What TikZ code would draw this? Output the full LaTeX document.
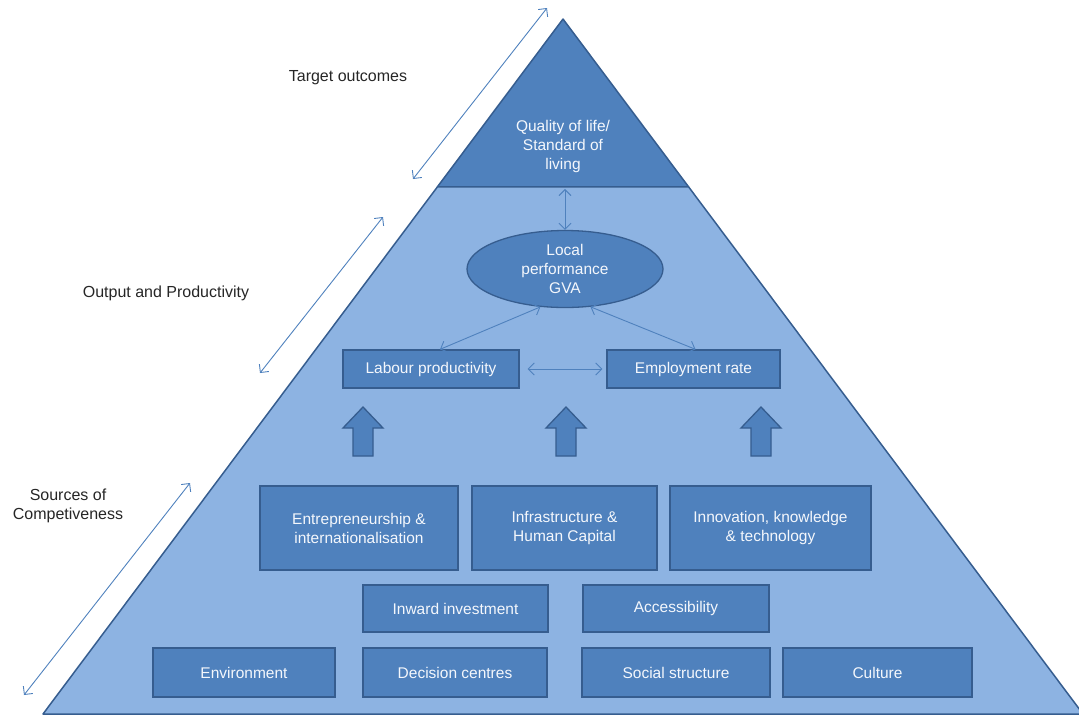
\documentclass[tikz,border=0pt]{standalone}
\usepackage{fontspec}
\setmainfont{Liberation Sans}
\usetikzlibrary{calc}
\usetikzlibrary{shapes.geometric,arrows.meta}
\definecolor{pyrlightc}{HTML}{8DB3E2}
\definecolor{pyrdarkc}{HTML}{4F81BD}
\definecolor{pyredgec}{HTML}{365D8F}
\colorlet{pyrlight}{pyrlightc}
\colorlet{pyrdark}{pyrdarkc}
\colorlet{pyredge}{pyredgec}
\colorlet{boxtext}{white!90!pyrlight}
\colorlet{labeltext}{black!85}
\tikzstyle{level} = [
    draw=pyredge,
    line width=1.5pt,
    line join=round
    ]
\tikzstyle{factor} = [
    draw=pyredge,
    fill=pyrdark,
    line width=1.3pt,
    rectangle,
    text=boxtext,
    align=center,
    inner sep=2pt,
    font=\fontsize{15.5}{19}\selectfont
    ]
\tikzstyle{sidelabel} = [
    text=labeltext,
    align=center,
    font=\fontsize{16}{19}\selectfont
    ]
\tikzstyle{link} = [
    pyrdark,
    line width=0.9pt,
    {Straight Barb[length=6pt,width=12pt]}-{Straight Barb[length=6pt,width=12pt]}
    ]
\tikzstyle{uparrow} = [
    draw=pyredge,
    fill=pyrdark,
    line width=1.3pt,
    line join=miter
    ]

\begin{document}
\begin{tikzpicture}[x=1pt,y=-1pt]
\useasboundingbox (0,0) rectangle (1079,716);

% pyramid
\coordinate (apex) at (563,19);
\coordinate (baseL) at (43,714);
\coordinate (baseR) at (1083,714);
\coordinate (bandL) at ($(apex)!0.2417!(baseL)$);
\coordinate (bandR) at ($(apex)!0.2417!(baseR)$);
\fill[pyrlight] (apex) -- (baseL) -- (baseR) -- cycle;
\draw[level, fill=pyrdark] (apex) -- (bandL) -- (bandR) -- cycle;
\draw[level] (bandL) -- (baseL) -- (baseR) -- (bandR);

% top level
\node[factor, draw=none, fill=none] (qol) at (563,146) {Quality of life/\\Standard of\\living};
\node[factor, ellipse, minimum width=196, minimum height=77, inner sep=0pt] (gva) at (565,269) {Local\\performance\\GVA};

% output level
\node[factor, minimum width=176, minimum height=38] (labour) at (431,369) {Labour productivity};
\node[factor, minimum width=173, minimum height=38] (employ) at (693.5,369) {Employment rate};

% sources of competitiveness
\node[factor, minimum width=198, minimum height=84] (entre) at (359,528) {Entrepreneurship \&\\internationalisation};
\node[factor, minimum width=185, minimum height=84] (infra) at (564.5,528) {Infrastructure \&\\Human Capital};
\node[factor, minimum width=201, minimum height=84] (innov) at (770.5,528) {Innovation, knowledge\\\& technology};
\node[factor, minimum width=185, minimum height=47] (inward) at (455.5,608.5) {Inward investment};
\node[factor, minimum width=186, minimum height=47] (access) at (676,608.5) {Accessibility};
\node[factor, minimum width=182, minimum height=49] (environ) at (244,672.5) {Environment};
\node[factor, minimum width=184, minimum height=49] (decision) at (455,672.5) {Decision centres};
\node[factor, minimum width=188, minimum height=49] (social) at (676,672.5) {Social structure};
\node[factor, minimum width=189, minimum height=49] (culture) at (877.5,672.5) {Culture};

% block arrows
\foreach \x in {363,566,761}
    \draw[uparrow] (\x-10,456) -- (\x-10,428) -- (\x-20,428) -- (\x,407)
        -- (\x+20,428) -- (\x+10,428) -- (\x+10,456) -- cycle;

% links
\draw[link] ([yshift=-2pt]gva.north |- bandL) -- (gva.north);
\draw[link] ([xshift=9pt]labour.north) -- (gva.-123);
\draw[link] ([xshift=2pt]employ.north) -- (gva.-56);
\draw[link] ([xshift=8pt]labour.east) -- ([xshift=-4pt]employ.west);

% side labels
\node[sidelabel] (target) at (348,78) {Target outcomes};
\node[sidelabel] (output) at (166,293) {Output and Productivity};
\node[sidelabel] (sources) at (68,506) {Sources of\\Competiveness};
\coordinate (t1) at (413,179);
\coordinate (t2) at (547,8);
\coordinate (o1) at (260,373);
\coordinate (o2) at (383,217);
\coordinate (s1) at (24,695);
\coordinate (s2) at (190,483);
\draw[link] (t1) -- (t2);
\draw[link] (o1) -- (o2);
\draw[link] (s1) -- (s2);
\end{tikzpicture}
\end{document}
